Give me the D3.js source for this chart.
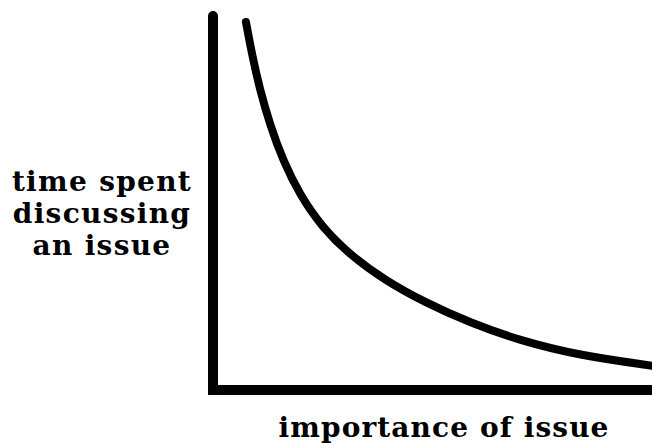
<!DOCTYPE html>
<html><head><meta charset="utf-8">
<script src="https://cdn.jsdelivr.net/npm/d3@7"></script>
<style>body{margin:0;background:#fff}svg{display:block}</style>
</head><body>
<script>
const importance = [7.5, 8.9, 10.7, 13.0, 15.9, 19.8, 24.8, 31.2, 39.2, 48.3, 58.5, 69.9, 83.6, 100];
const timeSpent  = [98.4, 89.6, 80.2, 70.9, 61.5, 52.1, 43.6, 36.1, 29.3, 23.4, 18.0, 13.2, 9.2, 6.5];
const yLabelLines = ["time spent", "discussing", "an issue"];
const xLabel = "importance of issue";

const W = 652, H = 444;
const svg = d3.select("body").append("svg").attr("width", W).attr("height", H);
const x = d3.scaleLinear().domain([0, 100]).range([213, 652]);
const y = d3.scaleLinear().domain([0, 100]).range([390, 16]);

// axes
svg.append("path")
  .attr("d", d3.line()([[x(0), y(100)], [x(0), y(0)], [x(105), y(0)]]))
  .attr("fill", "none").attr("stroke", "#000").attr("stroke-width", 10)
  .attr("stroke-linecap", "round").attr("stroke-linejoin", "miter");

// curve
const pts = importance.map((d, i) => [d, timeSpent[i]]);
svg.append("path")
  .attr("d", d3.line().x(d => x(d[0])).y(d => y(d[1])).curve(d3.curveBasis)(pts))
  .attr("fill", "none").attr("stroke", "#000").attr("stroke-width", 8)
  .attr("stroke-linecap", "round");

const font = "'DejaVu Serif', serif";
const t = svg.append("text").attr("font-family", font).attr("font-weight", "bold")
  .attr("font-size", 28).attr("letter-spacing", 1.3).attr("text-anchor", "middle").attr("fill", "#000");
yLabelLines.forEach((s, i) => {
  t.append("tspan").attr("x", 102).attr("y", 191 + i * 32).text(s);
});
svg.append("text").attr("font-family", font).attr("font-weight", "bold")
  .attr("font-size", 28).attr("letter-spacing", 1.1).attr("text-anchor", "middle").attr("fill", "#000")
  .attr("x", 444).attr("y", 437).text(xLabel);
</script>
</body></html>
